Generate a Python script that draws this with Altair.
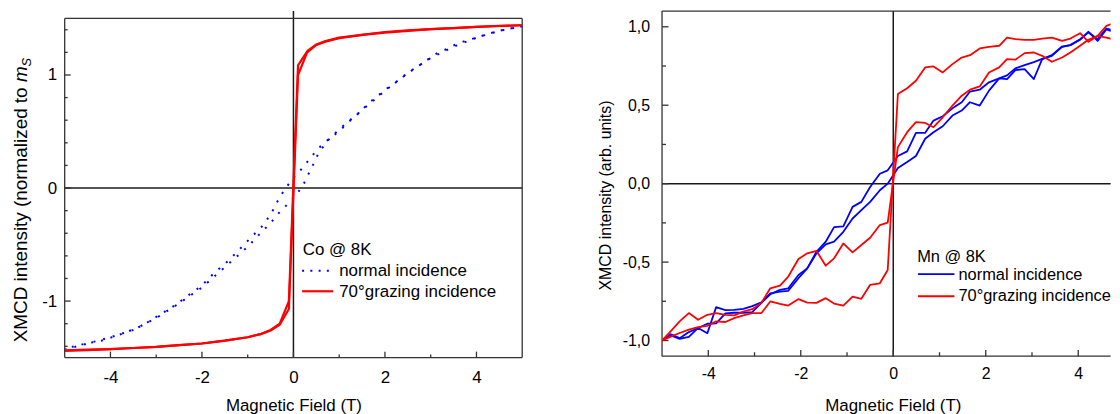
import altair as alt
import pandas as pd

FONT = "Liberation Sans"
BLUE = "#0000ff"
RED = "#ff0000"
AX = "#333333"
ZERO = "#1a1a1a"

# ---------------- Co @ 8K (left panel) ----------------
co_normal_down_field = [5.0, 4.72, 4.43, 4.22, 4.0, 3.78, 3.57, 3.35, 3.13, 2.91, 2.70, 2.48, 2.26, 2.04,
                        1.86, 1.64, 1.46, 1.25, 0.99, 0.70, 0.52, 0.34, 0.16, 0.0, -0.17, -0.31, -0.46,
                        -0.64, -0.86, -1.15, -1.43, -1.73, -2.01, -2.30, -2.60, -2.96, -3.32, -3.75,
                        -4.19, -4.55, -5.0]
co_normal_down_xmcd = [1.43, 1.41, 1.385, 1.36, 1.33, 1.305, 1.275, 1.23, 1.19, 1.13, 1.07, 1.01, 0.94,
                       0.88, 0.82, 0.75, 0.675, 0.60, 0.50, 0.41, 0.34, 0.25, 0.16, 0.09, 0.0, -0.088,
                       -0.205, -0.32, -0.41, -0.53, -0.645, -0.75, -0.865, -0.95, -1.04, -1.13, -1.22,
                       -1.29, -1.35, -1.377, -1.42]
co_normal_up_field = [-5.0, -4.5, -4.0, -3.5, -3.0, -2.5, -2.0, -1.5, -1.0, -0.7, -0.5, -0.35, -0.17,
                      0.0, 0.2, 0.3, 0.41, 0.55, 0.75, 1.0, 1.5, 2.0, 2.5, 3.0, 3.5, 4.0, 4.5, 5.0]
co_normal_up_xmcd = [-1.43, -1.375, -1.32, -1.255, -1.15, -1.02, -0.88, -0.70, -0.52, -0.39, -0.31,
                     -0.234, -0.16, -0.09, 0.015, 0.10, 0.19, 0.31, 0.42, 0.52, 0.69, 0.86, 1.02, 1.15,
                     1.25, 1.33, 1.39, 1.43]

co_grazing_down_field = [5.0, 4.5, 4.0, 3.5, 3.0, 2.5, 2.0, 1.5, 1.0, 0.7, 0.5, 0.3, 0.1, -0.1, -0.3,
                         -0.5, -0.7, -1.0, -1.5, -2.0, -2.5, -3.0, -3.5, -4.0, -4.5, -5.0]
co_grazing_down_xmcd = [1.44, 1.433, 1.425, 1.415, 1.405, 1.395, 1.38, 1.355, 1.33, 1.30, 1.27, 1.21,
                        1.085, -1.00, -1.20, -1.255, -1.29, -1.32, -1.35, -1.375, -1.39, -1.405, -1.415,
                        -1.425, -1.43, -1.435]
co_grazing_up_field = [-5.0, -4.5, -4.0, -3.5, -3.0, -2.5, -2.0, -1.5, -1.0, -0.7, -0.5, -0.3, -0.1, 0.1,
                       0.3, 0.5, 0.7, 1.0, 1.5, 2.0, 2.5, 3.0, 3.5, 4.0, 4.5, 5.0]
co_grazing_up_xmcd = [-1.44, -1.433, -1.425, -1.415, -1.405, -1.39, -1.375, -1.35, -1.32, -1.29, -1.26,
                      -1.21, -1.07, 1.00, 1.20, 1.265, 1.295, 1.325, 1.355, 1.375, 1.39, 1.405, 1.415,
                      1.425, 1.435, 1.44]

# ---------------- Mn @ 8K (right panel) ----------------
mn_field = [-5.0, -4.81, -4.62, -4.42, -4.22, -4.02, -3.83, -3.63, -3.44, -3.24, -3.05, -2.85, -2.66,
            -2.45, -2.27, -2.05, -1.86, -1.66, -1.46, -1.28, -1.08, -0.88, -0.69, -0.5, -0.29, -0.12,
            0.1, 0.3, 0.49, 0.69, 0.87, 1.07, 1.28, 1.48, 1.66, 1.87, 2.07, 2.29, 2.46, 2.64, 2.84,
            3.04, 3.22, 3.43, 3.65, 3.83, 4.04, 4.22, 4.42, 4.61, 4.8, 5.0]
mn_normal_a = [-1.0, -0.967, -0.99, -0.977, -0.92, -0.954, -0.787, -0.806, -0.804, -0.798, -0.781,
               -0.756, -0.70, -0.688, -0.683, -0.603, -0.54, -0.434, -0.37, -0.277, -0.273, -0.148,
               -0.116, -0.021, 0.063, 0.085,
               0.176, 0.206, 0.324, 0.324, 0.402, 0.43, 0.48, 0.519, 0.587, 0.599, 0.646, 0.671, 0.69,
               0.735, 0.755, 0.775, 0.795, 0.815, 0.872, 0.883, 0.921, 0.965, 0.921, 0.989, 0.974, 1.0]
mn_normal_b = [-1.0, -0.96, -0.985, -0.946, -0.92, -0.893, -0.891, -0.827, -0.823, -0.823, -0.819,
               -0.76, -0.705, -0.677, -0.667, -0.582, -0.54, -0.444, -0.387, -0.37, -0.307, -0.222,
               -0.169, -0.116, -0.042, 0.0,
               0.1, 0.138, 0.176, 0.286, 0.328, 0.366, 0.434, 0.466, 0.519, 0.498, 0.593, 0.671, 0.667,
               0.724, 0.73, 0.667, 0.794, 0.819, 0.874, 0.883, 0.917, 0.968, 0.91, 0.984, 0.963, 1.0]
mn_grazing_inner = [-1.0, -0.94, -0.878, -0.825, -0.868, -0.836, -0.825, -0.836, -0.84, -0.815, -0.80,
                    -0.76, -0.667, -0.65, -0.592, -0.48, -0.444, -0.429, -0.523, -0.476, -0.381, -0.438,
                    -0.391, -0.345, -0.264, -0.248,
                    0.233, 0.328, 0.392, 0.387, 0.36, 0.423, 0.498, 0.561, 0.599, 0.62, 0.709, 0.741,
                    0.794, 0.79, 0.832, 0.836, 0.815, 0.777, 0.804, 0.836, 0.879, 0.917, 0.942, 0.931,
                    0.917, 0.917]
mn_grazing_outer = [-1.0, -0.975, -0.952, -0.931, -0.914, -0.906, -0.878, -0.882, -0.857, -0.84,
                    -0.825, -0.825, -0.751, -0.766, -0.777, -0.736, -0.758, -0.76, -0.73, -0.764,
                    -0.777, -0.72, -0.734, -0.645, -0.635, -0.55,
                    0.571, 0.608, 0.656, 0.741, 0.747, 0.709, 0.762, 0.804, 0.819, 0.862, 0.872, 0.879,
                    0.931, 0.921, 0.917, 0.917, 0.925, 0.931, 0.91, 0.925, 0.959, 0.904, 0.942, 1.006,
                    1.027, 1.03]

x_major = [-4, -2, 0, 2, 4]
x_minor = [-3, -1, 1, 3]
co_y_major = [-1, 0, 1]
co_y_minor = [-1.4, -1.2, -0.8, -0.6, -0.4, -0.2, 0.2, 0.4, 0.6, 0.8, 1.2, 1.4]
mn_y_major = [-1.0, -0.5, 0.0, 0.5, 1.0]
mn_y_minor = [-0.75, -0.25, 0.25, 0.75]

ONE = pd.DataFrame({"k": [0]})


def line_df(xs, ys):
    return pd.DataFrame({"x": xs, "y": ys, "i": list(range(len(xs)))})


def curve(xs, ys, X, Y, color, width, dash=None):
    kw = dict(color=color, strokeWidth=width, clip=True, strokeJoin="round")
    if dash is not None:
        kw["strokeDash"] = dash
    return alt.Chart(line_df(xs, ys)).mark_line(**kw).encode(x=X, y=Y, order=alt.Order("i:Q"))


def txt(s, x, y, size, align="left", baseline="alphabetic", angle=0, dx=0, dy=0, style="normal"):
    mk = dict(font=FONT, fontSize=size, align=align, baseline=baseline, color="black",
              fontStyle=style)
    if angle:
        mk["angle"] = angle
    if dx:
        mk["dx"] = dx
    if dy:
        mk["dy"] = dy
    return alt.Chart(ONE).mark_text(**mk).encode(x=alt.value(x), y=alt.value(y), text=alt.value(s))


def hseg(x1, x2, y, color, width, dash=None):
    kw = dict(color=color, strokeWidth=width)
    if dash is not None:
        kw["strokeDash"] = dash
    return alt.Chart(ONE).mark_rule(**kw).encode(x=alt.value(x1), x2=alt.value(x2), y=alt.value(y))


def xticks(vals, X, H, length):
    return alt.Chart(pd.DataFrame({"x": vals})).mark_rule(color=AX, strokeWidth=1.3).encode(
        x=X, y=alt.value(H), y2=alt.value(H - length))


def yticks(vals, Y, length):
    return alt.Chart(pd.DataFrame({"y": vals})).mark_rule(color=AX, strokeWidth=1.3).encode(
        y=Y, x=alt.value(0), x2=alt.value(length))


def zero_lines(X, Y):
    v = alt.Chart(pd.DataFrame({"x": [0]})).mark_rule(color=ZERO, strokeWidth=1.5).encode(x=X)
    h = alt.Chart(pd.DataFrame({"y": [0]})).mark_rule(color=ZERO, strokeWidth=1.5).encode(y=Y)
    return [v, h]


def frame_h(yvals, Y):
    return alt.Chart(pd.DataFrame({"y": yvals})).mark_rule(color=AX, strokeWidth=1.3).encode(y=Y)


def frame_v(xvals, y_lo, y_hi, X, Y):
    df = pd.DataFrame({"x": xvals, "y": [y_lo] * len(xvals), "y2": [y_hi] * len(xvals)})
    return alt.Chart(df).mark_rule(color=AX, strokeWidth=1.3).encode(x=X, y=Y, y2="y2:Q")


int_label = "(datum.value < 0 ? '-' : '') + format(abs(datum.value), 'd')"
comma_label = "(datum.value < 0 ? '-' : '') + replace(format(abs(datum.value), '.1f'), '.', ',')"

# ---------------- left panel ----------------
# view starts 7.4 px above the frame so both panels' top edges line up as in the figure
W1, H1 = 460, 348.4
Y1_TOP = 1.5 + 7.4 / (341 / 3.0)
X1 = alt.X("x:Q", scale=alt.Scale(domain=[-5, 5], nice=False, zero=False),
           axis=alt.Axis(values=x_major, labelExpr=int_label, labelFontSize=17, labelPadding=11.6,
                         title="Magnetic Field (T)", titleFontSize=17, titlePadding=11,
                         minExtent=29, maxExtent=29))
Y1 = alt.Y("y:Q", scale=alt.Scale(domain=[-1.5, Y1_TOP], nice=False, zero=False),
           axis=alt.Axis(values=co_y_major, labelExpr=int_label, labelFontSize=17, labelPadding=8,
                         title=None))

left_layers = zero_lines(X1, Y1) + [
    frame_h([-1.5, 1.5], Y1),
    frame_v([-5, 5], -1.5, 1.5, X1, Y1),
    xticks(x_major, X1, H1, 6), xticks(x_minor, X1, H1, 3),
    yticks(co_y_major, Y1, 6), yticks(co_y_minor, Y1, 3),
    curve(co_normal_down_field, co_normal_down_xmcd, X1, Y1, BLUE, 2, [2, 8]),
    curve(co_normal_up_field, co_normal_up_xmcd, X1, Y1, BLUE, 2, [2, 8]),
    curve(co_grazing_down_field, co_grazing_down_xmcd, X1, Y1, RED, 2.2),
    curve(co_grazing_up_field, co_grazing_up_xmcd, X1, Y1, RED, 2.2),
    # legend
    txt("Co @ 8K", 239.3, 245.7, 17),
    hseg(238.7, 270, 261, BLUE, 2, [2, 6.3]),
    txt("normal incidence", 276, 266.7, 17),
    hseg(238.7, 270, 281.7, RED, 2.2),
    txt("70°grazing incidence", 276, 287.7, 17),
    # y title with italic m and subscript S
    txt("XMCD intensity (normalized to", -37.5, 76.7, 19, align="right", angle=270),
    txt("m", -37.5, 76.7, 19, align="left", angle=270, dx=5.3, style="italic"),
    txt("S", -37.5, 76.7, 13, align="left", angle=270, dx=21.1, dy=4, style="italic"),
]
left = alt.layer(*left_layers).properties(width=W1, height=H1)

# ---------------- right panel ----------------
W2, H2 = 451, 347
X2 = alt.X("x:Q", scale=alt.Scale(domain=[-5, 4.7], nice=False, zero=False),
           axis=alt.Axis(values=x_major, labelExpr=int_label, labelFontSize=16, labelPadding=9.8,
                         title=None))
Y2 = alt.Y("y:Q", scale=alt.Scale(domain=[-1.1, 1.1], nice=False, zero=False),
           axis=alt.Axis(values=mn_y_major, labelExpr=comma_label, labelFontSize=16,
                         labelPadding=12.5, title=None))

right_layers = zero_lines(X2, Y2) + [
    frame_h([-1.1, 1.1], Y2),
    frame_v([-5], -1.1, 1.1, X2, Y2),
    xticks(x_major, X2, H2, 6.3), xticks(x_minor, X2, H2, 4),
    yticks(mn_y_major, Y2, 6.5), yticks(mn_y_minor, Y2, 4),
    curve(mn_field, mn_normal_a, X2, Y2, BLUE, 1.8),
    curve(mn_field, mn_normal_b, X2, Y2, BLUE, 1.8),
    curve(mn_field, mn_grazing_inner, X2, Y2, RED, 1.8),
    curve(mn_field, mn_grazing_outer, X2, Y2, RED, 1.8),
    # legend
    txt("Mn @ 8K", 256.5, 252.7, 16.5),
    hseg(257.3, 294, 264.4, BLUE, 1.8),
    txt("normal incidence", 298, 270, 16.5),
    hseg(257.3, 294, 286.7, RED, 1.8),
    txt("70°grazing incidence", 298, 291.7, 16.5),
    # axis titles
    txt("XMCD intensity (arb. units)", -51.7, 185.4, 16, align="center", angle=270),
    txt("Magnetic Field (T)", 232.5, 402.4, 17, align="center"),
]
right = alt.layer(*right_layers).properties(width=W2, height=H2)

chart = alt.hconcat(left, right, spacing=72.6,
                    padding={"left": 3, "top": 0, "right": 0, "bottom": 0}).configure(
    font=FONT
).configure_view(
    stroke="transparent"
).configure_axis(
    domain=False, ticks=False, tickSize=0, grid=False,
    labelColor="black", titleColor="black", labelFont=FONT, titleFont=FONT,
    titleFontWeight="normal"
)

chart.save("out.html", embed_options={"renderer": "svg", "actions": False})
